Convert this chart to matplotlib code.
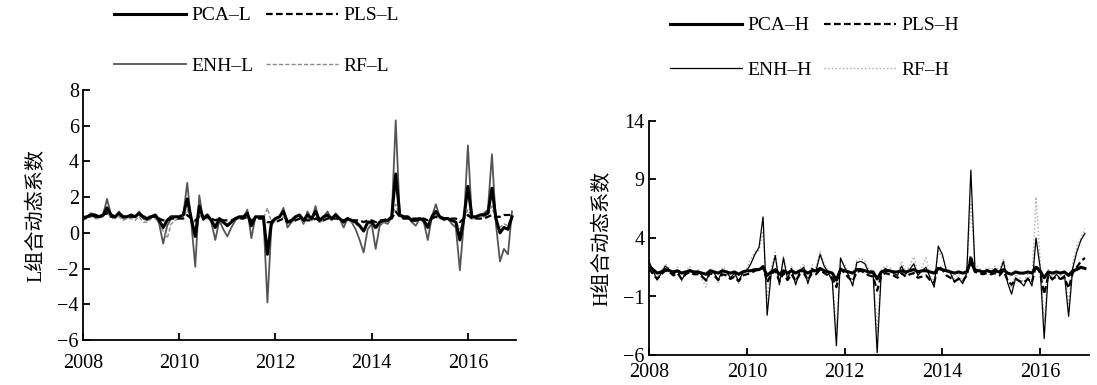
import numpy as np
import matplotlib.pyplot as plt

plt.rcParams['font.family'] = ['Liberation Serif', 'Noto Sans CJK SC']
plt.rcParams['axes.unicode_minus'] = True

# monthly observations, 2008-01 .. 2016-12
months = 2008 + np.arange(108) / 12.0

# ---- L group ----
pca_l = [0.8, 0.9, 1.0, 1.0, 0.9, 1.0, 1.4, 1.0, 0.9, 1.1, 0.9, 0.9,
         1.0, 0.9, 1.1, 0.9, 0.8, 0.9, 1.0, 0.7, 0.3, 0.7, 0.9, 0.9,
         0.9, 1.0, 1.9, 0.8, -0.2, 1.5, 0.8, 1.0, 0.7, 0.3, 0.8, 0.6,
         0.4, 0.6, 0.8, 0.9, 0.9, 1.1, 0.4, 0.9, 0.9, 0.9, -1.2, 0.6,
         0.8, 0.9, 1.2, 0.6, 0.7, 0.9, 1.0, 0.7, 1.0, 0.8, 1.2, 0.7,
         0.9, 1.0, 0.8, 1.0, 0.8, 0.6, 0.8, 0.7, 0.6, 0.4, 0.1, 0.6,
         0.6, 0.3, 0.6, 0.7, 0.7, 0.9, 3.3, 1.0, 0.9, 0.9, 0.7, 0.7,
         0.8, 0.7, 0.3, 0.9, 1.2, 0.9, 0.8, 0.8, 0.7, 0.6, -0.4, 0.8,
         2.6, 0.9, 0.9, 1.0, 1.0, 1.1, 2.5, 0.8, 0.0, 0.3, 0.2, 0.9]
pls_l = [0.9, 0.9, 1.0, 0.9, 0.9, 1.0, 1.1, 0.9, 0.9, 1.0, 0.9, 0.9,
         0.9, 0.9, 1.0, 0.9, 0.9, 0.9, 0.9, 0.8, 0.7, 0.7, 0.8, 0.8,
         0.8, 0.8, 1.0, 0.8, 0.7, 0.9, 0.8, 0.9, 0.8, 0.7, 0.8, 0.7,
         0.7, 0.7, 0.8, 0.8, 0.8, 0.9, 0.7, 0.8, 0.8, 0.8, 0.6, 0.6,
         0.6, 0.7, 0.8, 0.6, 0.6, 0.7, 0.8, 0.7, 0.7, 0.7, 0.8, 0.7,
         0.7, 0.8, 0.8, 0.8, 0.8, 0.7, 0.8, 0.7, 0.7, 0.7, 0.6, 0.7,
         0.7, 0.6, 0.7, 0.7, 0.8, 0.8, 1.2, 0.9, 0.8, 0.8, 0.8, 0.8,
         0.8, 0.8, 0.7, 0.8, 0.9, 0.8, 0.8, 0.8, 0.8, 0.8, 0.6, 0.8,
         1.0, 0.8, 0.8, 0.8, 0.8, 0.9, 1.0, 0.9, 0.9, 1.0, 1.0, 1.0]
enh_l = [0.8, 0.9, 1.1, 1.0, 0.9, 1.0, 1.9, 1.0, 0.9, 1.2, 0.8, 0.9,
         1.0, 0.9, 1.2, 0.8, 0.7, 0.9, 1.0, 0.5, -0.6, 0.4, 0.8, 0.9,
         0.9, 1.0, 2.8, 0.6, -1.9, 2.1, 0.7, 1.0, 0.6, -0.4, 0.7, 0.2,
         -0.2, 0.3, 0.7, 0.9, 0.8, 1.3, -0.3, 0.9, 0.8, 0.9, -3.9, 0.4,
         0.8, 0.9, 1.4, 0.3, 0.6, 0.9, 1.0, 0.5, 1.2, 0.7, 1.5, 0.6,
         0.9, 1.2, 0.7, 1.1, 0.8, 0.3, 0.8, 0.6, 0.2, -0.4, -1.1, 0.2,
         0.5, -0.9, 0.4, 0.6, 0.5, 0.9, 6.3, 1.0, 0.8, 0.9, 0.6, 0.4,
         0.8, 0.6, -0.4, 0.9, 1.6, 0.9, 0.7, 0.8, 0.5, 0.3, -2.1, 0.6,
         4.9, 0.8, 0.9, 1.0, 1.1, 1.3, 4.4, 0.5, -1.6, -0.9, -1.2, 1.2]
rf_l = [0.7, 0.8, 0.9, 0.8, 0.8, 0.9, 1.2, 0.8, 0.8, 0.9, 0.7, 0.8,
        0.8, 0.7, 0.9, 0.6, 0.6, 0.8, 0.8, 0.6, 0.1, -0.3, 0.5, 0.7,
        0.8, 0.8, 1.3, 0.7, 0.6, 1.0, 0.8, 0.8, 0.7, 0.5, 0.7, 0.6,
        0.5, 0.6, 0.7, 0.8, 0.8, 0.9, 0.6, 0.8, 0.8, 0.8, 1.4, 0.6,
        0.6, 0.7, 0.9, 0.5, 0.6, 0.7, 0.8, 0.6, 0.8, 0.7, 0.9, 0.6,
        0.7, 0.9, 0.7, 0.8, 0.7, 0.5, 0.7, 0.6, 0.5, 0.3, 0.1, 0.5,
        0.5, 0.2, 0.5, 0.6, 0.6, 0.8, 1.6, 0.9, 0.8, 0.8, 0.7, 0.7,
        0.8, 0.7, 0.5, 0.8, 1.0, 0.8, 0.8, 0.8, 0.7, 0.6, 0.2, 0.7,
        1.3, 0.8, 0.8, 0.8, 0.9, 1.0, 1.5, 0.6, 0.3, 0.5, 0.4, 1.0]

# ---- H group ----
pca_h = [1.6, 1.3, 1.0, 1.1, 1.3, 1.2, 1.1, 1.2, 1.0, 1.1, 1.2, 1.1,
         1.1, 1.0, 0.9, 1.2, 1.1, 1.0, 1.2, 1.1, 1.0, 1.1, 0.9, 1.1,
         1.2, 1.2, 1.3, 1.3, 1.5, 0.8, 1.1, 1.3, 0.9, 1.2, 1.0, 1.2,
         1.0, 1.2, 1.2, 1.0, 1.2, 1.2, 1.4, 1.2, 1.1, 1.0, 0.4, 1.3,
         1.2, 1.1, 1.0, 1.3, 1.3, 1.2, 1.1, 1.1, 0.5, 1.1, 1.2, 1.2,
         1.1, 1.1, 1.2, 1.1, 1.2, 1.3, 1.1, 1.2, 1.2, 1.1, 1.0, 1.4,
         1.3, 1.2, 1.1, 1.0, 1.1, 1.0, 1.1, 2.0, 1.2, 1.2, 1.1, 1.2,
         1.1, 1.2, 1.1, 1.3, 1.0, 0.9, 1.1, 1.0, 1.0, 1.1, 1.0, 1.5,
         1.2, 0.6, 1.1, 1.0, 1.1, 1.0, 1.1, 0.8, 1.2, 1.3, 1.5, 1.4]
pls_h = [1.4, 0.9, 0.5, 0.9, 1.2, 1.1, 0.8, 1.0, 0.5, 0.9, 1.1, 0.9,
         0.9, 0.7, 0.4, 1.0, 0.8, 0.4, 0.9, 0.8, 0.5, 0.7, 0.3, 0.8,
         0.9, 1.0, 1.2, 1.3, 1.6, 0.2, 0.9, 1.2, 0.3, 1.0, 0.4, 0.9,
         0.3, 0.9, 1.0, 0.4, 1.0, 0.9, 1.3, 1.0, 0.8, 0.6, -0.2, 1.4,
         1.0, 0.6, 0.3, 1.1, 1.2, 1.0, 0.8, 0.7, -0.5, 0.8, 1.0, 0.9,
         0.8, 0.6, 1.0, 0.7, 0.9, 1.0, 0.6, 0.7, 0.8, 0.4, 0.2, 1.6,
         1.3, 0.8, 0.6, 0.3, 0.5, 0.3, 0.8, 2.5, 1.1, 1.0, 0.9, 1.0,
         0.9, 1.0, 0.8, 1.2, 0.4, 0.0, 0.5, 0.3, 0.2, 0.5, 0.2, 1.7,
         1.0, -0.8, 0.8, 0.5, 0.7, 0.5, 0.6, -0.3, 1.0, 1.5, 2.0, 2.3]
enh_h = [2.0, 1.2, 0.4, 1.0, 1.6, 1.3, 0.9, 1.2, 0.4, 1.0, 1.3, 1.0,
         1.1, 0.8, 0.3, 1.2, 1.0, 0.4, 1.2, 1.1, 0.6, 1.0, 0.3, 1.0,
         1.2, 1.8, 2.6, 3.2, 5.8, -2.6, 1.0, 2.5, 0.0, 2.3, 0.5, 1.4,
         0.0, 1.2, 1.5, 0.1, 1.4, 1.2, 2.6, 1.6, 1.0, 0.3, -5.2, 2.3,
         1.5, 0.8, -0.1, 1.9, 2.0, 1.8, 1.0, 1.0, -5.8, 1.0, 1.4, 1.2,
         1.0, 0.8, 1.6, 0.9, 1.3, 1.8, 0.8, 1.2, 1.5, 0.6, -0.2, 3.3,
         2.6, 1.2, 1.0, 0.2, 0.6, 0.1, 1.0, 9.8, 1.4, 1.2, 1.0, 1.3,
         1.1, 1.4, 1.0, 2.0, 0.2, -0.8, 0.6, 0.3, -0.1, 0.6, -0.1, 4.0,
         1.5, -4.6, 1.0, 0.4, 0.9, 0.5, 0.8, -2.7, 1.4, 2.8, 3.8, 4.4]
rf_h = [1.8, 1.1, 0.6, 1.1, 1.8, 1.4, 0.8, 1.5, 0.3, 1.2, 1.6, 0.9,
        1.3, 0.5, -0.2, 1.4, 1.2, 0.2, 1.5, 1.3, 0.4, 1.2, 0.1, 1.1,
        1.4, 2.2, 2.8, 2.9, 4.6, -1.2, 1.4, 2.8, 0.4, 2.4, 0.7, 1.6,
        0.3, 1.4, 1.8, 0.3, 1.7, 1.5, 2.9, 1.8, 1.2, 0.5, -3.8, 2.0,
        1.8, 1.0, 0.2, 2.1, 2.3, 2.0, 1.3, 1.2, -4.0, 1.3, 1.6, 1.5,
        1.2, 1.0, 2.0, 1.1, 1.6, 2.4, 1.0, 1.5, 2.3, 0.8, 0.3, 2.9,
        2.3, 1.4, 1.2, 0.5, 0.9, 0.3, 1.3, 7.0, 1.8, 1.4, 1.2, 1.5,
        1.3, 1.6, 1.2, 2.2, 0.5, -0.3, 0.9, 0.6, 0.2, 0.9, 0.4, 7.5,
        2.2, -3.2, 1.3, 0.7, 1.2, 0.8, 1.1, -1.6, 1.8, 3.3, 4.0, 4.8]

xticks = [2008, 2010, 2012, 2014, 2016]
yticks_l = [-6, -4, -2, 0, 2, 4, 6, 8]
yticks_h = [-6, -1, 4, 9, 14]

W, H = 1097, 385
fig = plt.figure(figsize=(W / 100, H / 100), dpi=100)
ax1 = fig.add_axes([83 / W, 1 - 340 / H, 433 / W, 250 / H])
ax2 = fig.add_axes([649 / W, 1 - 355 / H, 440 / W, 234 / H])


def style_axes(ax, yticks, ylabel, xpad):
    ax.set_xlim(2008, 2017)
    ax.set_ylim(yticks[0], yticks[-1])
    ax.set_xticks(xticks)
    ax.set_yticks(yticks)
    for s in ['top', 'right']:
        ax.spines[s].set_visible(False)
    for s in ['left', 'bottom']:
        ax.spines[s].set_linewidth(1.3)
    ax.tick_params(direction='in', length=5, width=1.3, labelsize=14.5, pad=3)
    ax.tick_params(axis='x', pad=xpad)
    for lab in ax.get_yticklabels():
        lab.set_va('center_baseline')
    ax.set_ylabel(ylabel, fontsize=14.5, labelpad=8)


# left panel
h_enh_l, = ax1.plot(months, enh_l, color='#555555', lw=1.3)
h_rf_l, = ax1.plot(months, rf_l, color='#8a8a8a', lw=1.0, dashes=(3, 1.5))
h_pls_l, = ax1.plot(months, pls_l, color='black', lw=1.6, dashes=(3, 1.5))
h_pca_l, = ax1.plot(months, pca_l, color='black', lw=2.2)
style_axes(ax1, yticks_l, 'L组合动态系数', 10)

# right panel
h_rf_h, = ax2.plot(months, rf_h, color='#aaaaaa', lw=1.0, ls=':')
h_enh_h, = ax2.plot(months, enh_h, color='black', lw=0.9)
h_pls_h, = ax2.plot(months, pls_h, color='black', lw=1.6, dashes=(3, 1.5))
h_pca_h, = ax2.plot(months, pca_h, color='black', lw=2.2)
style_axes(ax2, yticks_h, 'H组合动态系数', 6)

leg_kw = dict(ncol=2, frameon=False, fontsize=14, borderpad=0, borderaxespad=0,
              handlelength=3.7, handletextpad=0.3, columnspacing=0.6)
fig.legend([h_pca_l, h_enh_l, h_pls_l, h_rf_l],
           ['PCA\u2013L', 'ENH\u2013L', 'PLS\u2013L', 'RF\u2013L'],
           loc='center left', bbox_to_anchor=(114 / W, 1 - 41 / H),
           labelspacing=1.7, **leg_kw)
fig.legend([h_pca_h, h_enh_h, h_pls_h, h_rf_h],
           ['PCA\u2013H', 'ENH\u2013H', 'PLS\u2013H', 'RF\u2013H'],
           loc='center left', bbox_to_anchor=(670 / W, 1 - 48 / H),
           labelspacing=1.4, **leg_kw)

fig.savefig('out.png', dpi=100)
